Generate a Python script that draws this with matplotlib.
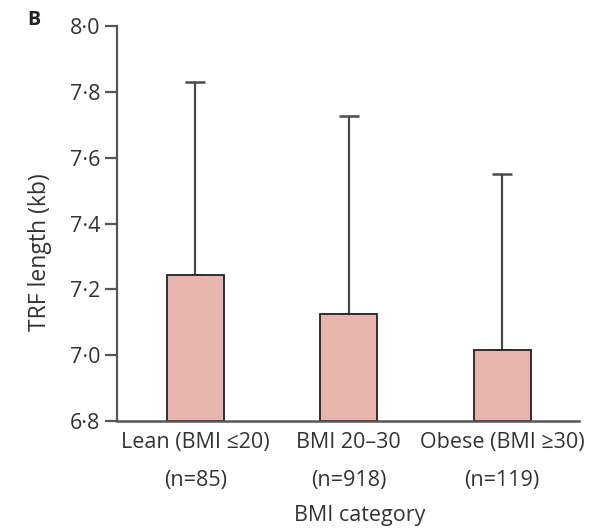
import numpy as np
import matplotlib
matplotlib.use("Agg")
import matplotlib.pyplot as plt

categories = ["Lean (BMI \u226420)\n(n=85)", "BMI 20\u201330\n(n=918)", "Obese (BMI \u226530)\n(n=119)"]
means = [7.245, 7.125, 7.015]
upper = [7.83, 7.725, 7.55]
yticks = [6.8, 7.0, 7.2, 7.4, 7.6, 7.8, 8.0]

plt.rcParams['font.family'] = ['Open Sans', 'DejaVu Sans']
fs = 15.5

fig = plt.figure(figsize=(6.03, 5.29), dpi=100)
ax = fig.add_axes([0.194, 0.204, 0.766, 0.747])

x = np.arange(len(means))
err = np.array(upper) - np.array(means)

ax.errorbar(x, means, yerr=[np.zeros(len(x)), err], fmt='none', ecolor='#4a4a4a',
            elinewidth=1.6, capsize=7, capthick=1.8, zorder=1)
ax.bar(x, np.array(means) - 6.8, bottom=6.8, width=0.37, color='#e8b5ae',
       edgecolor='#222222', linewidth=1.3, zorder=2)

ax.set_xlim(-0.51, 2.5)
ax.set_ylim(6.8, 8.0)
ax.set_yticks(yticks)
ax.set_yticklabels([f"{v:.1f}".replace('.', '\u00b7') for v in yticks], fontsize=fs, color='#333333')
ax.set_xticks(x)
ax.set_xticklabels(categories, fontsize=fs, color='#333333', linespacing=2.05)
ax.tick_params(axis='x', length=0, pad=8)
ax.tick_params(axis='y', length=9, width=1.6, color='#555555', pad=3)

for s in ['top', 'right']:
    ax.spines[s].set_visible(False)
ax.spines['left'].set_linewidth(1.6)
ax.spines['left'].set_color('#555555')
ax.spines['bottom'].set_linewidth(1.8)
ax.spines['bottom'].set_color('#555555')

ax.set_ylabel("TRF length (kb)", fontsize=fs + 1, color='#333333', va='center')
ax.yaxis.set_label_coords(-0.167, 0.428)
ax.set_xlabel("BMI category", fontsize=fs, color='#333333', va='center')
ax.xaxis.set_label_coords(0.526, -0.238)

fig.text(0.045, 0.962, "B", fontsize=14, fontweight='bold', color='#222222', va='center')

fig.savefig("out.png", dpi=100)
